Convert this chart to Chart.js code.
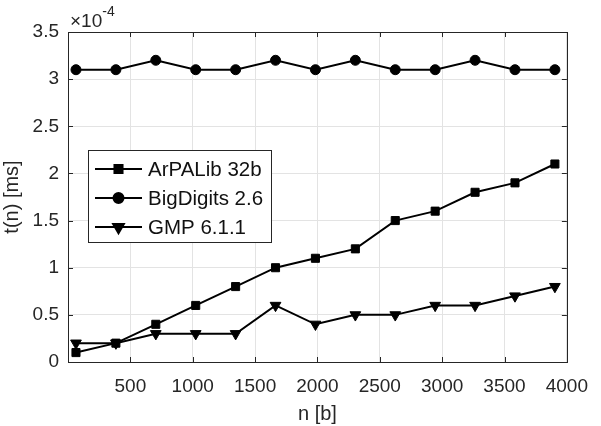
<!DOCTYPE html>
<html>
<head>
<meta charset="utf-8">
<script src="https://cdn.jsdelivr.net/npm/chart.js@4/dist/chart.umd.min.js"></script>
<style>
  html, body { margin: 0; padding: 0; background: #fff; }
  #wrap { width: 601px; height: 426px; }
</style>
</head>
<body>
<div id="wrap"><canvas id="timeChart" width="601" height="426"></canvas></div>
<script>
// data (t in units of 1e-4 ms)
const nBits = [64, 384, 704, 1024, 1344, 1664, 1984, 2304, 2624, 2944, 3264, 3584, 3904];
const arpalib = [0.1, 0.2, 0.4, 0.6, 0.8, 1.0, 1.1, 1.2, 1.5, 1.6, 1.8, 1.9, 2.1];
const bigdigits = [3.1, 3.1, 3.2, 3.1, 3.1, 3.2, 3.1, 3.2, 3.1, 3.1, 3.2, 3.1, 3.1];
const gmp = [0.2, 0.2, 0.3, 0.3, 0.3, 0.6, 0.4, 0.5, 0.5, 0.6, 0.6, 0.7, 0.8];
const xTicks = [500, 1000, 1500, 2000, 2500, 3000, 3500, 4000];
const yTicks = [0, 0.5, 1, 1.5, 2, 2.5, 3, 3.5];

const FONT = "'Liberation Sans', Arial, sans-serif";
const AXIS_COLOR = '#262626';

function toPoints(values) {
    return values.map((v, i) => ({ x: nBits[i], y: v }));
}

function series(label, values, style, radius, rotation) {
    return {
        label: label,
        data: toPoints(values),
        borderColor: '#000',
        backgroundColor: '#000',
        borderWidth: 2,
        pointStyle: style,
        pointRadius: radius,
        pointRotation: rotation,
        pointBackgroundColor: '#000',
        pointBorderColor: '#000',
        pointBorderWidth: 1,
        tension: 0
    };
}

// box, inner ticks, legend and exponent label
const matlabAxes = {
    id: 'matlabAxes',
    afterDatasetsDraw(chart) {
        const ctx = chart.ctx;
        const a = chart.chartArea;
        const xs = chart.scales.x, ys = chart.scales.y;
        ctx.save();
        ctx.strokeStyle = AXIS_COLOR;
        ctx.lineWidth = 1;
        ctx.beginPath();
        xTicks.forEach(v => {
            const px = Math.round(xs.getPixelForValue(v)) + 0.5;
            ctx.moveTo(px, a.bottom); ctx.lineTo(px, a.bottom - 5);
            ctx.moveTo(px, a.top); ctx.lineTo(px, a.top + 5);
        });
        yTicks.forEach(v => {
            const py = Math.round(ys.getPixelForValue(v)) + 0.5;
            ctx.moveTo(a.left, py); ctx.lineTo(a.left + 5, py);
            ctx.moveTo(a.right, py); ctx.lineTo(a.right - 5, py);
        });
        ctx.stroke();
        ctx.strokeRect(Math.round(a.left) + 0.5, Math.round(a.top) + 0.5,
            Math.round(a.right - a.left), Math.round(a.bottom - a.top));

        // exponent
        ctx.fillStyle = AXIS_COLOR;
        ctx.textBaseline = 'alphabetic';
        ctx.textAlign = 'left';
        ctx.font = '19px ' + FONT;
        ctx.fillText('\u00d710', a.left + 2, 27);
        const w = ctx.measureText('\u00d710').width;
        ctx.font = '14px ' + FONT;
        ctx.fillText('-4', a.left + 2 + w, 16);

        // legend
        const box = { x: 88.5, y: 150.5, w: 183, h: 92 };
        ctx.fillStyle = '#fff';
        ctx.fillRect(box.x, box.y, box.w, box.h);
        ctx.strokeStyle = AXIS_COLOR;
        ctx.strokeRect(box.x, box.y, box.w, box.h);
        ctx.font = '20.5px ' + FONT;
        ctx.textBaseline = 'middle';
        chart.data.datasets.forEach((ds, i) => {
            const cy = 169 + i * 29;
            ctx.strokeStyle = '#000';
            ctx.lineWidth = 2;
            ctx.beginPath();
            ctx.moveTo(95, cy); ctx.lineTo(142, cy);
            ctx.stroke();
            ctx.fillStyle = '#000';
            Chart.helpers.drawPoint(ctx, {
                pointStyle: ds.pointStyle,
                radius: ds.pointRadius,
                rotation: ds.pointRotation,
                borderWidth: 1
            }, 118.5, cy);
            ctx.fillStyle = '#111';
            ctx.fillText(ds.label, 148, cy + 1);
        });
        ctx.restore();
    }
};

const timeCtx = document.getElementById('timeChart').getContext('2d');
const timeChart = new Chart(timeCtx, {
    type: 'line',
    data: {
        datasets: [
            series('ArPALib 32b', arpalib, 'rect', 5.7, 0),
            series('BigDigits 2.6', bigdigits, 'circle', 5, 0),
            series('GMP 6.1.1', gmp, 'triangle', 6.2, 180)
        ]
    },
    options: {
        responsive: false,
        animation: false,
        layout: { padding: { top: 32, right: 18, left: 0, bottom: 0 } },
        plugins: {
            legend: { display: false },
            tooltip: { enabled: false }
        },
        scales: {
            x: {
                type: 'linear',
                min: 0,
                max: 4000,
                afterBuildTicks: s => { s.ticks = xTicks.map(v => ({ value: v })); },
                afterFit: s => { s.height = 64; },
                grid: { color: '#e3e3e3', drawTicks: false },
                border: { display: false },
                ticks: {
                    padding: 13,
                    color: AXIS_COLOR,
                    font: { family: FONT, size: 19 },
                    maxRotation: 0,
                    callback: v => String(v)
                },
                title: {
                    display: true,
                    text: 'n [b]',
                    color: AXIS_COLOR,
                    font: { family: FONT, size: 20 },
                    padding: { top: 0, bottom: 0 }
                }
            },
            y: {
                min: 0,
                max: 3.5,
                afterBuildTicks: s => { s.ticks = yTicks.map(v => ({ value: v })); },
                afterFit: s => { s.width = 68; },
                grid: { color: '#e3e3e3', drawTicks: false },
                border: { display: false },
                ticks: {
                    padding: 9,
                    color: AXIS_COLOR,
                    font: { family: FONT, size: 19 },
                    callback: v => String(v)
                },
                title: {
                    display: true,
                    text: 't(n) [ms]',
                    color: AXIS_COLOR,
                    font: { family: FONT, size: 20 },
                    padding: { top: 0, bottom: 0 }
                }
            }
        }
    },
    plugins: [matlabAxes]
});
</script>
</body>
</html>
